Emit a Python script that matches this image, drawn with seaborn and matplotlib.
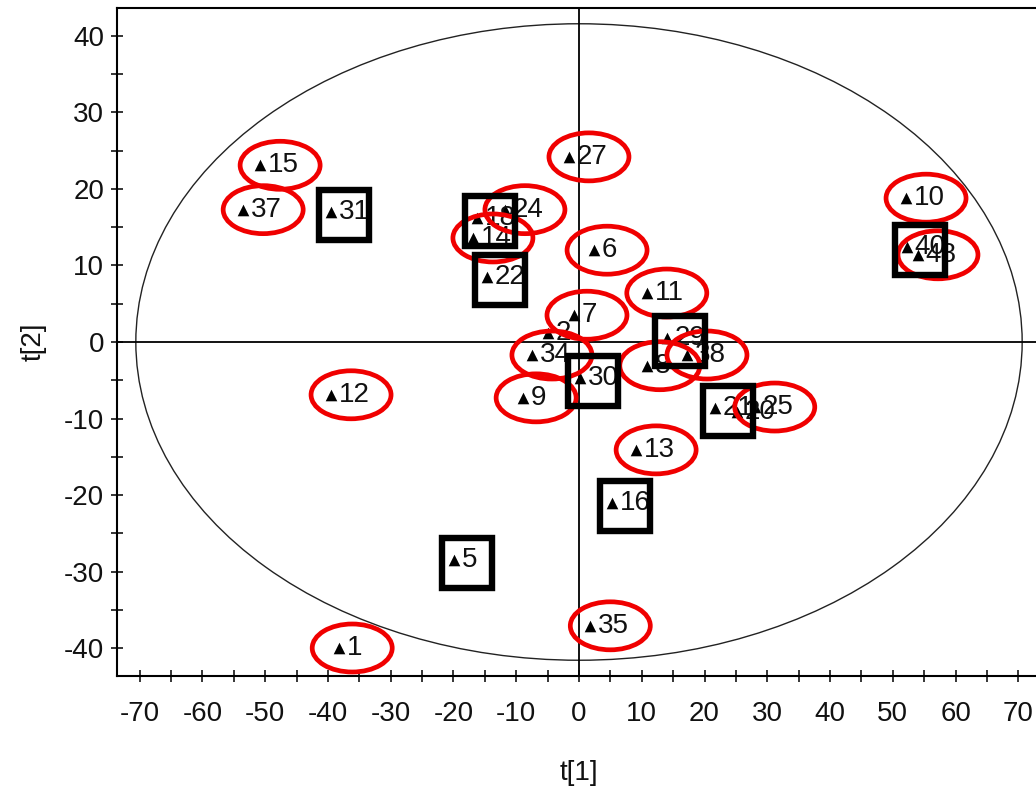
import matplotlib
matplotlib.use("Agg")
import matplotlib.pyplot as plt
from matplotlib.patches import Ellipse, Rectangle
from matplotlib.ticker import MultipleLocator
import seaborn as sns
import pandas as pd

# PCA score plot: t[1] vs t[2] with sample numbers
sample_ids = ["15", "37", "31", "1", "12", "5", "27", "6", "7", "10", "40", "48",
              "11", "13", "16", "35", "9", "30", "34", "2", "8", "29", "38", "21",
              "20", "25", "24", "18", "14", "22"]
t1_scores = [-50.8, -53.5, -39.5, -38.2, -39.5, -19.9, -1.6, 2.4, -0.8, 52.1, 52.2, 54.0,
             10.8, 9.1, 5.3, 1.8, -8.9, 0.2, -7.5, -4.9, 10.8, 14.0, 17.2, 21.7,
             25.2, 28.0, -11.8, -16.2, -16.9, -14.6]
t2_scores = [23.1, 17.3, 17.0, -40.0, -6.9, -28.5, 24.2, 12.0, 3.5, 18.8, 12.4, 11.4,
             6.4, -14.1, -21.0, -37.1, -7.3, -4.7, -1.7, 1.2, -3.1, 0.5, -1.7, -8.6,
             -9.2, -8.5, 17.3, 16.2, 13.6, 8.5]

# Hotelling T2 (95%) ellipse semi-axes
t2_ellipse = [70.6, 41.6]

# highlighted samples
ringed = ["15", "37", "27", "24", "14", "6", "10", "48", "11", "7", "34", "8",
          "38", "9", "12", "25", "13", "35", "1"]
boxed = ["31", "18", "22", "40", "29", "30", "21", "16", "5"]

df = pd.DataFrame({"id": sample_ids, "t1": t1_scores, "t2": t2_scores})

sns.set_style("white")
plt.rcParams["font.family"] = ["Liberation Sans", "DejaVu Sans"]
plt.rcParams["axes.unicode_minus"] = False

W, H = 1036, 787
fig = plt.figure(figsize=(W / 100, H / 100), dpi=100)
ax = fig.add_axes([117 / W, 1 - 676 / H, (1041 - 117) / W, (676 - 8) / H])

ax.set_xlim(-73.6, 73.6)
ax.set_ylim(-43.66, 43.66)

# ellipse and origin lines
ax.add_patch(Ellipse((0, 0), 2 * t2_ellipse[0], 2 * t2_ellipse[1], fill=False,
                     ec="#222222", lw=1.0, zorder=1))
ax.axhline(0, color="black", lw=1.3, zorder=1)
ax.axvline(0, color="black", lw=1.3, zorder=1)

sns.scatterplot(data=df, x="t1", y="t2", marker="^", color="black", s=70,
                edgecolor="black", linewidth=0, ax=ax, zorder=3, legend=False)

for sid, x, y in zip(sample_ids, t1_scores, t2_scores):
    ax.annotate(sid, (x, y), xytext=(5.5, 0), textcoords="offset points",
                ha="left", va="center", fontsize=20, color="#111111", zorder=4)

# data units per pixel on each axis
px_x = (ax.get_xlim()[1] - ax.get_xlim()[0]) / (1041 - 117)
px_y = (ax.get_ylim()[1] - ax.get_ylim()[0]) / (676 - 8)

lookup = dict(zip(sample_ids, zip(t1_scores, t2_scores)))
for sid in ringed:
    x, y = lookup[sid]
    cx = x + (6 + 7 * len(sid)) * px_x
    ax.add_patch(Ellipse((cx, y), 80 * px_x, 48 * px_y, fill=False,
                         ec="#f00000", lw=3.4, zorder=5))
for sid in boxed:
    x, y = lookup[sid]
    cx = x + 13 * px_x
    cy = y - 3 * px_y
    bw, bh = 50 * px_x, 50 * px_y
    ax.add_patch(Rectangle((cx - bw / 2, cy - bh / 2), bw, bh, fill=False,
                           ec="black", lw=4.6, zorder=6, joinstyle="miter"))

ax.xaxis.set_major_locator(MultipleLocator(10))
ax.xaxis.set_minor_locator(MultipleLocator(5))
ax.yaxis.set_major_locator(MultipleLocator(10))
ax.yaxis.set_minor_locator(MultipleLocator(5))
ax.tick_params(axis="both", which="both", direction="inout", length=8.6,
               width=1.1, color="black", bottom=True, left=True, top=False, right=False)
ax.tick_params(axis="x", which="major", labelsize=20, pad=14)
ax.tick_params(axis="y", which="major", labelsize=20, pad=5)
for lab in ax.get_xticklabels() + ax.get_yticklabels():
    lab.set_color("#111111")

for sp in ax.spines.values():
    sp.set_color("black")
    sp.set_linewidth(1.5)

ax.set_xlabel("t[1]", fontsize=20, color="#111111")
ax.set_ylabel("t[2]", fontsize=20, color="#111111")
ax.xaxis.set_label_coords(0.5, -0.125)
ax.yaxis.set_label_coords(-0.076, 0.5)

fig.savefig("out.png", dpi=100)
